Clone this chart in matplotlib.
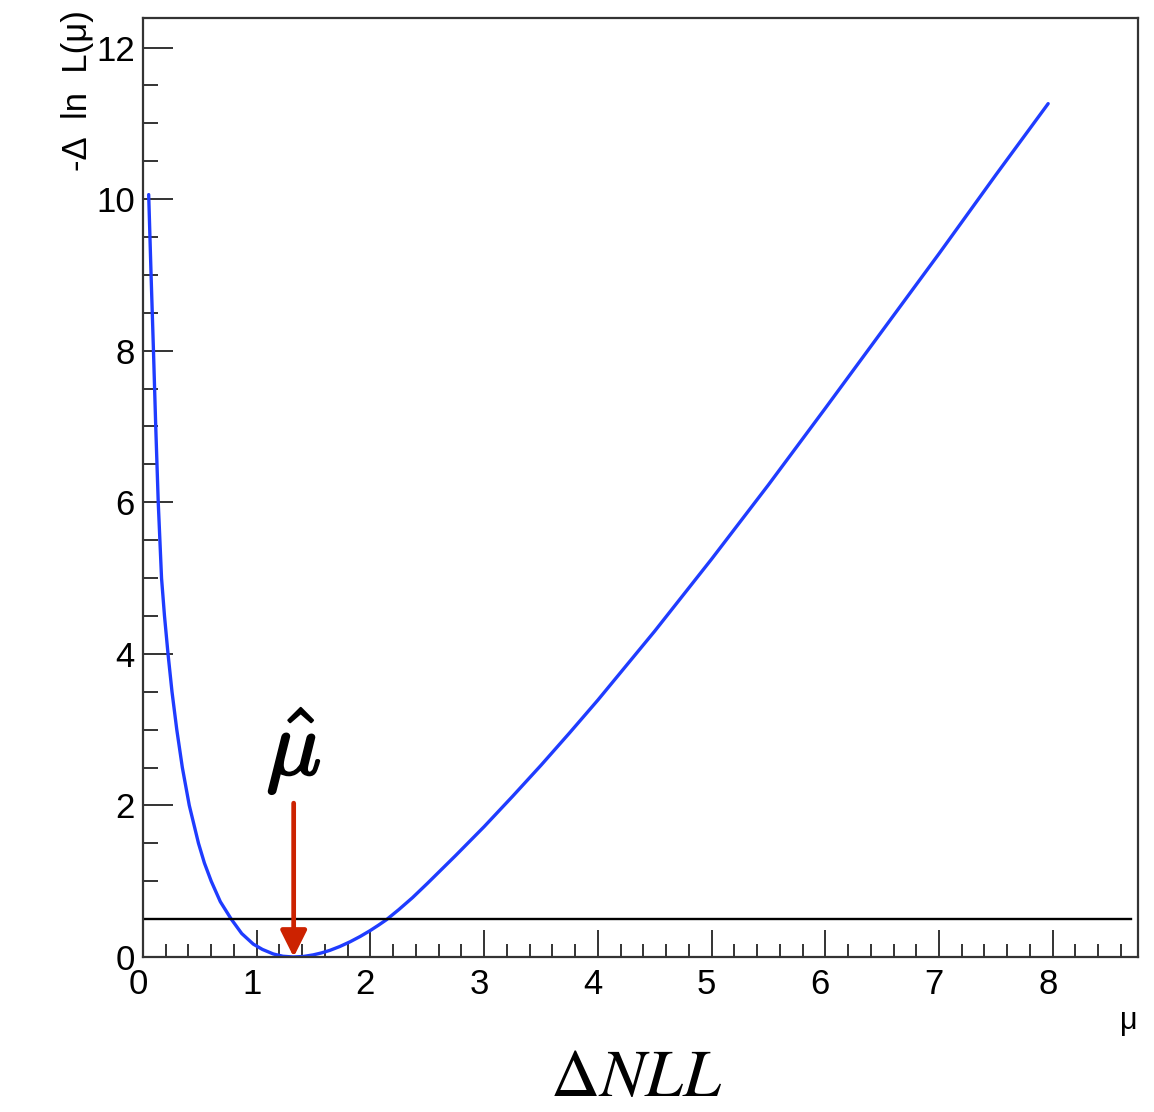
import matplotlib
matplotlib.use("Agg")
import matplotlib.pyplot as plt
import matplotlib.patheffects as pe
from matplotlib.ticker import MultipleLocator
from matplotlib.transforms import ScaledTranslation

plt.rcParams["font.family"] = ["Liberation Sans", "DejaVu Sans"]
plt.rcParams["mathtext.fontset"] = "stix"

# Profile of -Delta ln L versus the signal strength mu
mu_vals = [0.050, 0.071, 0.092, 0.112, 0.134, 0.163, 0.189, 0.220, 0.255,
           0.297, 0.346, 0.407, 0.488, 0.54, 0.600, 0.68, 0.776, 0.868,
           0.97, 1.05, 1.146, 1.23, 1.32, 1.41, 1.497, 1.57, 1.644, 1.73,
           1.82, 1.91, 1.996, 2.07, 2.14, 2.25, 2.37, 2.5, 2.75, 3.0, 3.25,
           3.5, 3.75, 4.0, 4.5, 5.0, 5.5, 6.0, 6.5, 7.0, 7.5, 7.96]
nll_vals = [10.06, 9.0, 8.0, 7.0, 6.0, 5.0, 4.5, 4.0, 3.5,
            3.0, 2.5, 2.0, 1.5, 1.24, 1.0, 0.73, 0.5, 0.31,
            0.17, 0.10, 0.04, 0.01, 0.0, 0.007, 0.028, 0.054, 0.088, 0.138,
            0.200, 0.271, 0.347, 0.419, 0.491, 0.626, 0.783, 0.97, 1.34, 1.72,
            2.12, 2.53, 2.955, 3.39, 4.30, 5.25, 6.23, 7.24, 8.26, 9.28,
            10.32, 11.26]

# Reference level and best-fit marker
threshold_level = 0.5
threshold_span = [0.0, 8.69]
mu_hat = 1.325
arrow_top = 2.03

x_limits = [0.0, 8.75]
y_limits = [0.0, 12.39]

W, H = 1154, 1112
fig = plt.figure(figsize=(W / 100, H / 100), dpi=100)
ax = fig.add_axes([143 / W, (H - 957) / H, (1138 - 143) / W, (957 - 18) / H])

ax.plot(mu_vals, nll_vals, color="#1f3cff", lw=2.4, solid_capstyle="round",
        solid_joinstyle="round")
ax.plot(threshold_span, [threshold_level, threshold_level], color="black",
        lw=1.7)

ax.annotate("", xy=(mu_hat, 0.0), xytext=(mu_hat, arrow_top),
            arrowprops=dict(arrowstyle="-|>,head_length=1.6,head_width=0.8",
                            mutation_scale=10, color="#cc2200", lw=3.4,
                            shrinkA=0, shrinkB=0))
ax.text(mu_hat, 2.12, r"$\hat{\mu}$", fontsize=66, ha="center",
        va="bottom", color="black", math_fontfamily="cm",
        path_effects=[pe.withStroke(linewidth=1.6, foreground="black")])

ax.set_xlim(*x_limits)
ax.set_ylim(*y_limits)

ax.xaxis.set_major_locator(MultipleLocator(1))
ax.xaxis.set_minor_locator(MultipleLocator(0.2))
ax.yaxis.set_major_locator(MultipleLocator(2))
ax.yaxis.set_minor_locator(MultipleLocator(0.5))

ax.tick_params(axis="both", which="both", direction="in", top=False,
               right=False, colors="#333333", labelcolor="black",
               labelsize=25, width=1.4)
ax.tick_params(axis="x", which="major", length=19.5, pad=8)
ax.tick_params(axis="x", which="minor", length=9.5)
ax.tick_params(axis="y", which="major", length=21.5, pad=6)
ax.tick_params(axis="y", which="minor", length=10.8)

shift = ScaledTranslation(-5 / 100, 0, fig.dpi_scale_trans)
for lbl in ax.get_xticklabels():
    lbl.set_transform(lbl.get_transform() + shift)

for sp in ax.spines.values():
    sp.set_color("#333333")
    sp.set_linewidth(1.6)

fig.text(77 / W, (H - 10) / H, "-Δ  ln  L(μ)", rotation=90,
         ha="center", va="top", fontsize=25)
fig.text(1138 / W, (H - 1036) / H, "μ", ha="right", va="bottom", fontsize=22)

fig.text(636 / W, (H - 1110) / H, r"$\Delta NLL$", ha="center",
         va="bottom", fontsize=49)

fig.savefig("out.png", dpi=100, facecolor="white")
